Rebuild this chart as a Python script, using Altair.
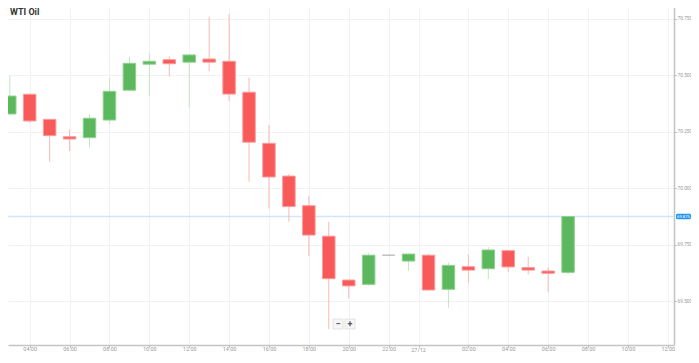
import altair as alt
import pandas as pd

# ---- data (hours counted from 26/12 00:00) ----
hours = [3, 4, 5, 6, 7, 8, 9, 10, 11, 12, 13, 14, 15, 16, 17, 18, 19, 20, 21, 22,
         23, 24, 25, 26, 27, 28, 29, 30, 31]
opens = [70.329, 70.416, 70.305, 70.228, 70.224, 70.302, 70.434, 70.549, 70.569, 70.558,
         70.572, 70.562, 70.425, 70.199, 70.054, 69.923, 69.788, 69.594, 69.575, 69.704,
         69.678, 69.704, 69.553, 69.653, 69.644, 69.724, 69.649, 69.634, 69.628]
highs = [70.498, 70.420, 70.307, 70.261, 70.329, 70.489, 70.582, 70.600, 70.584, 70.592,
         70.759, 70.771, 70.489, 70.280, 70.063, 69.967, 69.852, 69.596, 69.712, 69.705,
         69.711, 69.709, 69.671, 69.708, 69.740, 69.726, 69.697, 69.650, 69.875]
lows = [70.325, 70.290, 70.118, 70.165, 70.180, 70.283, 70.432, 70.408, 70.494, 70.358,
        70.519, 70.386, 70.029, 69.910, 69.852, 69.700, 69.377, 69.513, 69.569, 69.703,
        69.635, 69.548, 69.472, 69.582, 69.599, 69.631, 69.619, 69.540, 69.619]
closes = [70.408, 70.298, 70.233, 70.218, 70.310, 70.429, 70.553, 70.562, 70.551, 70.590,
          70.558, 70.417, 70.204, 70.050, 69.919, 69.793, 69.600, 69.568, 69.704, 69.704,
          69.709, 69.550, 69.659, 69.638, 69.727, 69.652, 69.638, 69.624, 69.875]

title_text = "WTI Oil"
current_price = 69.875
x_tick_values = [4, 6, 8, 10, 12, 14, 16, 18, 20, 22, 23.5, 26, 28, 30, 32, 34, 36]
day_label_hour = 23.5
day_label = "27/12"
y_tick_values = [69.5, 69.75, 70.0, 70.25, 70.5, 70.75]

x_domain = [2.912, 36.312]
y_domain = [69.3066, 70.8066]

W, H = 666, 339
FONT = "Roboto"

df = pd.DataFrame({"h": hours, "open": opens, "high": highs, "low": lows, "close": closes})

xs = alt.X("h:Q", scale=alt.Scale(domain=x_domain, nice=False, zero=False, padding=0),
           axis=alt.Axis(values=x_tick_values,
                         labelExpr="datum.value == 23.5 ? '' : ((datum.value % 24) < 10 ? '0' : '') + (datum.value % 24) + ':00'",
                         title=None, grid=True, labelPadding=-1, labelFontSize=5.5))
ys = alt.Y("low:Q", scale=alt.Scale(domain=y_domain, nice=False, zero=False, padding=0),
           axis=alt.Axis(orient="right", values=y_tick_values, format=".3f", title=None, grid=True,
                         labelPadding=1, labelFontSize=4.8))

base = alt.Chart(df).transform_calculate(
    body="datum.close > datum.open ? '#5cb85c' : (datum.close < datum.open ? '#f85959' : '#bbbbbb')",
    edge="datum.close > datum.open ? '#8fd08f' : (datum.close < datum.open ? '#fb9a9a' : '#bbbbbb')",
    wick="datum.close > datum.open ? '#c3e6c3' : (datum.close < datum.open ? '#f9b8b8' : '#cccccc')",
)

wicks = base.mark_rule(strokeWidth=1, clip=True).encode(
    x=xs, y=ys, y2="high:Q",
    color=alt.Color("wick:N", scale=None),
)

bodies = base.mark_bar(size=12.5, strokeWidth=1, clip=True).encode(
    x="h:Q",
    y="open:Q", y2="close:Q",
    fill=alt.Fill("body:N", scale=None),
    stroke=alt.Stroke("edge:N", scale=None),
)

price_df = pd.DataFrame({"price": [current_price]})
price_line = alt.Chart(price_df).mark_rule(color="#cfe6fb", strokeWidth=1.5).encode(y="price:Q")
price_box = alt.Chart(price_df).transform_calculate(
    lo="datum.price - 0.0124", hi="datum.price + 0.0124"
).mark_rect(color="#2196f3", cornerRadius=1.5, clip=False).encode(
    x=alt.value(668), x2=alt.value(683), y="lo:Q", y2="hi:Q"
)
price_text = alt.Chart(price_df).transform_calculate(
    lbl="format(datum.price, '.3f')"
).mark_text(color="white", fontSize=4.2, font=FONT, align="center", baseline="middle", clip=False).encode(
    x=alt.value(675.5), y="price:Q", text="lbl:N"
)

title = alt.Chart(pd.DataFrame({"t": [title_text]})).mark_text(
    align="left", baseline="top", fontSize=9, fontWeight="bold", font=FONT, color="#333333"
).encode(x=alt.value(2), y=alt.value(2), text="t:N")

day = alt.Chart(pd.DataFrame({"h": [day_label_hour], "t": [day_label]})).mark_text(
    align="center", baseline="middle", fontSize=5.5, font=FONT, color="#999999", clip=False
).encode(x="h:Q", y=alt.value(343.5), text="t:N")

btn_df = pd.DataFrame({"s": ["−", "+"], "bx": [325, 337]})
btn_box = alt.Chart(btn_df).transform_calculate(bx2="datum.bx + 10").mark_rect(
    fill="#f6f6f6", stroke="#dddddd", strokeWidth=0.8
).encode(x=alt.X("bx:Q", scale=None), x2="bx2:Q", y=alt.value(313), y2=alt.value(323))
btn_text = alt.Chart(btn_df).transform_calculate(tx="datum.bx + 5").mark_text(
    fontSize=9, font=FONT, fontWeight="bold", color="#555555", align="center", baseline="middle"
).encode(x=alt.X("tx:Q", scale=None), y=alt.value(318), text="s:N")

chart = alt.layer(
    price_line, wicks, bodies, price_box, price_text, title, day, btn_box, btn_text
).properties(
    width=W, height=H,
    autosize=alt.AutoSizeParams(type="none"),
    padding={"left": 0, "top": -2, "right": 17, "bottom": 7},
).configure_view(stroke=None).configure_axis(
    labelFont=FONT, labelColor="#999999",
    domainColor="#c4c4c4", domainWidth=1.5,
    tickColor="#aaaaaa", tickSize=2,
    gridColor="#f2f2f2", gridWidth=1,
)

chart.save("out.html", embed_options={"renderer": "svg", "actions": False})
